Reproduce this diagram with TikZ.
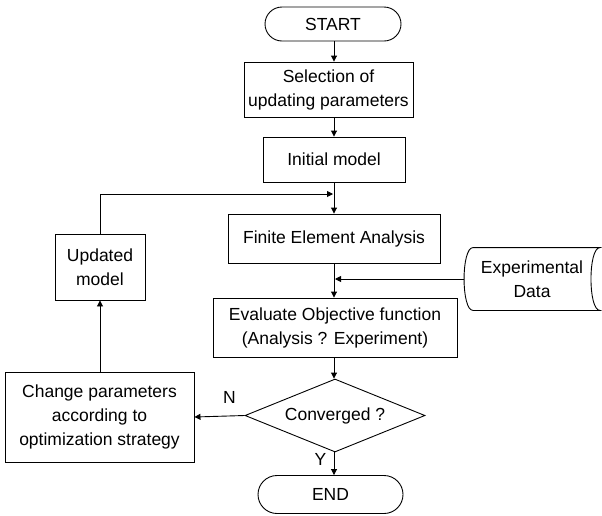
\documentclass[tikz,border=0pt]{standalone}
\usepackage{fontspec}
\setmainfont{Liberation Sans}
\usetikzlibrary{arrows.meta}
\usetikzlibrary{shapes}

\begin{document}
\begin{tikzpicture}[x=1pt,y=-1pt,line width=0.9pt,
        font=\fontsize{17.5}{24}\selectfont,
        box/.style={draw, align=center, inner sep=0pt},
        terminal/.style={box, rounded corners=#1},
        decision/.style={draw, diamond, shape aspect=2.5, inner sep=0pt,
            minimum width=180pt, minimum height=73pt},
        arr/.style={-{Triangle[length=6pt,width=6pt]}}]
    \useasboundingbox (0,0) rectangle (602,515);

    % main column
    \node[terminal=17pt, minimum width=136pt, minimum height=34pt] (start) at (333,24) {START};
    \node[box, minimum width=169pt, minimum height=55pt] (sel) at (328.5,89.5) {Selection of\\updating parameters};
    \node[box, minimum width=142pt, minimum height=45pt] (init) at (334,159.5) {Initial model};
    \node[box, minimum width=212pt, minimum height=49pt] (fea) at (334,238.5) {Finite Element Analysis};
    \node[box, minimum width=244pt, minimum height=59pt] (eval) at (335,327.5) {Evaluate Objective function\\(Analysis ? Experiment)};
    \node[decision] (conv) at (335,415.5) {Converged ?};
    \node[terminal=19pt, minimum width=145pt, minimum height=38pt] (end) at (330.5,494.5) {END};

    % side boxes
    \node[box, minimum width=90pt, minimum height=66pt] (upd) at (100,267) {Updated\\model};
    \node[box, minimum width=189pt, minimum height=90pt] (chg) at (99.5,417) {Change parameters\\according to\\optimization strategy};
    \node[align=center, inner sep=0pt, minimum width=135pt, minimum height=62pt] (exp) at (532,279) {Experimental\\Data};
    \draw ([xshift=9pt]exp.north west) -- (exp.north east)
        .. controls ([xshift=-12pt]exp.north east) and ([xshift=-12pt]exp.south east) .. (exp.south east)
        -- ([xshift=9pt]exp.south west)
        .. controls ([xshift=-3pt]exp.south west) and ([xshift=-3pt]exp.north west) .. cycle;

    \coordinate (join) at (334,194);
    \coordinate (feed) at (334,279);

    % connectors
    \draw[arr] (start.south -| join) -- (sel.north -| join);
    \draw[arr] (sel.south -| join) -- (init.north -| join);
    \draw (init.south -| join) -- (join);
    \draw[arr] (join) -- (fea.north -| join);
    \draw[arr] (upd.north) |- ([xshift=-1pt]join);
    \draw (fea.south -| join) -- (feed);
    \draw[arr] (exp.west) -- ([xshift=1pt]feed);
    \draw[arr] (feed) -- (eval.north -| join);
    \draw[arr] (eval.south -| join) -- (conv.north -| join);
    \draw[arr] (conv.west) -- node[above=9pt, pos=0.3] {N} (chg.east);
    \draw[arr] (conv.south -| join) -- node[left=4pt, pos=0.3] {Y} (end.north -| join);
    \draw[arr] (chg.north -| upd) -- (upd.south);
\end{tikzpicture}
\end{document}
